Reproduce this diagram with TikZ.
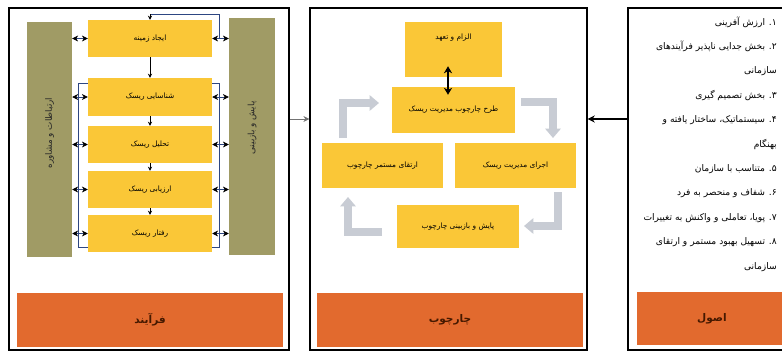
\documentclass[tikz,border=0pt]{standalone}
\usepackage{fontspec}
\usetikzlibrary{arrows.meta}
\TeXXeTstate=1
\newfontfamily\fa[Script=Arabic]{DejaVu Sans}
\newcommand\fatxt[1]{\beginR #1\endR}
\definecolor{boxY}{RGB}{250,199,55}
\definecolor{barO}{RGB}{226,106,46}
\definecolor{olv}{RGB}{160,155,101}
\definecolor{garr}{RGB}{200,204,212}
\definecolor{lnB}{RGB}{45,70,130}
\definecolor{lbl}{RGB}{70,25,0}
\begin{document}
\begin{tikzpicture}[x=0.03cm,y=-0.03cm,
  panel/.style={draw=black,line width=1.2pt,inner sep=0pt},
  ybox/.style={fill=boxY,draw=none,inner sep=0pt,font=\fa\fontsize{6.3}{7}\selectfont},
  obar/.style={fill=barO,draw=none,inner sep=0pt,text=lbl,font=\fa\bfseries\fontsize{9}{10}\selectfont},
  olbar/.style={fill=olv,draw=none,inner sep=0pt},
  vtxt/.style={font=\fa\fontsize{7.5}{8}\selectfont,text=black!85},
  ptxt/.style={font=\fa\fontsize{7.8}{9}\selectfont,anchor=east,inner sep=0pt},
  dbl/.style={lnB,line width=0.6pt,{Stealth[length=5pt,width=5pt,color=black]}-{Stealth[length=5pt,width=5pt,color=black]}},
  down/.style={black,line width=0.6pt,-{Stealth[length=3.5pt,width=3.5pt]}},
  blin/.style={lnB,line width=0.6pt},
  garrow/.style={garr,line width=6pt,-{Triangle[length=8pt,width=13pt]}},
]
\useasboundingbox (0,0) rectangle (782,353);
\clip (0,0) rectangle (782,353);
\fill[white] (0,0) rectangle (782,353);

% ---------- panels ----------
\node[panel,minimum width={280*0.03cm},minimum height={342*0.03cm}] (pL) at (149,179) {};
\node[panel,minimum width={277*0.03cm},minimum height={342*0.03cm}] (pM) at (448.5,179) {};
\node[panel,minimum width={162*0.03cm},minimum height={342*0.03cm}] (pR) at (709,179) {};

% ---------- bottom orange bars ----------
\node[obar,minimum width={266*0.03cm},minimum height={54*0.03cm}] (bL) at (150,320) {\fatxt{فرآیند}};
\node[obar,minimum width={266*0.03cm},minimum height={54*0.03cm}] (bM) at (450,320) {\fatxt{چارچوب}};
\node[obar,minimum width={150*0.03cm},minimum height={53*0.03cm}] (bR) at (712,318.5) {\fatxt{اصول}};

% ---------- process panel ----------
\node[olbar,minimum width={45*0.03cm},minimum height={235*0.03cm}] (oL) at (49.5,139.5) {};
\node[olbar,minimum width={46*0.03cm},minimum height={237*0.03cm}] (oR) at (252,136.5) {};
\node[vtxt,rotate=90] (tL) at (49.5,133) {\fatxt{ارتباطات و مشاوره}};
\node[vtxt,rotate=90] (tR) at (252,128) {\fatxt{پایش و بازبینی}};

\node[ybox,minimum width={124*0.03cm},minimum height={37*0.03cm}] (b1) at (150,38.5) {\fatxt{ایجاد زمینه}};
\node[ybox,minimum width={124*0.03cm},minimum height={38*0.03cm}] (b2) at (150,97) {\fatxt{شناسایی ریسک}};
\node[ybox,minimum width={124*0.03cm},minimum height={37*0.03cm}] (b3) at (150,144.5) {\fatxt{تحلیل ریسک}};
\node[ybox,minimum width={124*0.03cm},minimum height={37*0.03cm}] (b4) at (150,189.5) {\fatxt{ارزیابی ریسک}};
\node[ybox,minimum width={124*0.03cm},minimum height={37*0.03cm}] (b5) at (150,233.5) {\fatxt{رفتار ریسک}};

\draw[down] (b1.south) -- (b2.north);
\draw[down] (b2.south) -- (b3.north);
\draw[down] (b3.south) -- (b4.north);
\draw[down] (b4.south) -- (b5.north);

\foreach \b in {b1,b2,b3,b4,b5}{
  \draw[dbl] (oL.east |- \b.west) -- (\b.west);
  \draw[dbl] (\b.east) -- (oR.west |- \b.east);
}

% feedback line to the top and brackets
\coordinate (fb) at (219,38.5);
\coordinate (ft) at (150,14);
\draw[blin] (fb) |- (ft);
\draw[down] (ft) -- (b1.north);
\draw[blin] (b2.north west |- 0,83) -- (78,83) -- (78,247) -- (b5.south west |- 0,247);
\draw[blin] (b2.north east |- 0,83) -- (219,83) -- (219,247) -- (b5.south east |- 0,247);

% ---------- framework panel ----------
\node[ybox,minimum width={97*0.03cm},minimum height={55*0.03cm}] (m1) at (453.5,49.5) {};
\node[font=\fa\fontsize{6.3}{7}\selectfont,inner sep=0pt] (m1t) at (453.5,38) {\fatxt{الزام و تعهد}};
\node[ybox,minimum width={123*0.03cm},minimum height={46*0.03cm}] (m2) at (453.5,110) {\fatxt{طرح چارچوب مدیریت ریسک}};
\node[ybox,minimum width={121*0.03cm},minimum height={45*0.03cm}] (m3) at (515.5,165.5) {\fatxt{اجرای مدیریت ریسک}};
\node[ybox,minimum width={122*0.03cm},minimum height={43*0.03cm}] (m4) at (458,226.5) {\fatxt{پایش و بازبینی چارچوب}};
\node[ybox,minimum width={121*0.03cm},minimum height={45*0.03cm}] (m5) at (382.5,165.5) {\fatxt{ارتقای مستمر چارچوب}};

\draw[black,line width=1.6pt,{Stealth[length=6pt,width=7pt]}-{Stealth[length=6pt,width=7pt]}]
  ([shift={(-5.5,-11)}]m1.south) -- ([shift={(-5.5,8)}]m2.north);

% grey cycle arrows
\draw[garrow] (343,138) -- (343,103) -- (379,103);
\draw[garrow] (521,102) -- (553,102) -- (553,138);
\draw[garrow] (558,192) -- (558,226) -- (524,226);
\draw[garrow] (382,232) -- (348,232) -- (348,197);

% ---------- principles panel ----------
\node[ptxt] (p1) at (777,22) {\fatxt{۱. ارزش آفرینی}};
\node[ptxt] (p2) at (777,46.5) {\fatxt{۲. بخش جدایی ناپذیر فرآیندهای}};
\node[ptxt] (p3) at (777,71) {\fatxt{سازمانی}};
\node[ptxt] (p4) at (777,95.5) {\fatxt{۳. بخش تصمیم گیری}};
\node[ptxt] (p5) at (777,120) {\fatxt{۴. سیستماتیک، ساختار یافته و}};
\node[ptxt] (p6) at (777,144.5) {\fatxt{بهنگام}};
\node[ptxt] (p7) at (777,169) {\fatxt{۵. متناسب با سازمان}};
\node[ptxt] (p8) at (777,193.5) {\fatxt{۶. شفاف و منحصر به فرد}};
\node[ptxt] (p9) at (777,218) {\fatxt{۷. پویا، تعاملی و واکنش به تغییرات}};
\node[ptxt] (p10) at (777,242.5) {\fatxt{۸. تسهیل بهبود مستمر و ارتقای}};
\node[ptxt] (p11) at (777,267) {\fatxt{سازمانی}};

% ---------- arrows between panels ----------
\coordinate (ay) at (0,119);
\draw[black,line width=0.9pt,-{Stealth[length=6pt,width=6pt]}] (pR.west |- ay) -- (pM.east |- ay);
\draw[black!55,line width=0.6pt,-{Stealth[length=5pt,width=5pt]}] (pL.east |- ay) -- (pM.west |- ay);
\end{tikzpicture}
\end{document}
